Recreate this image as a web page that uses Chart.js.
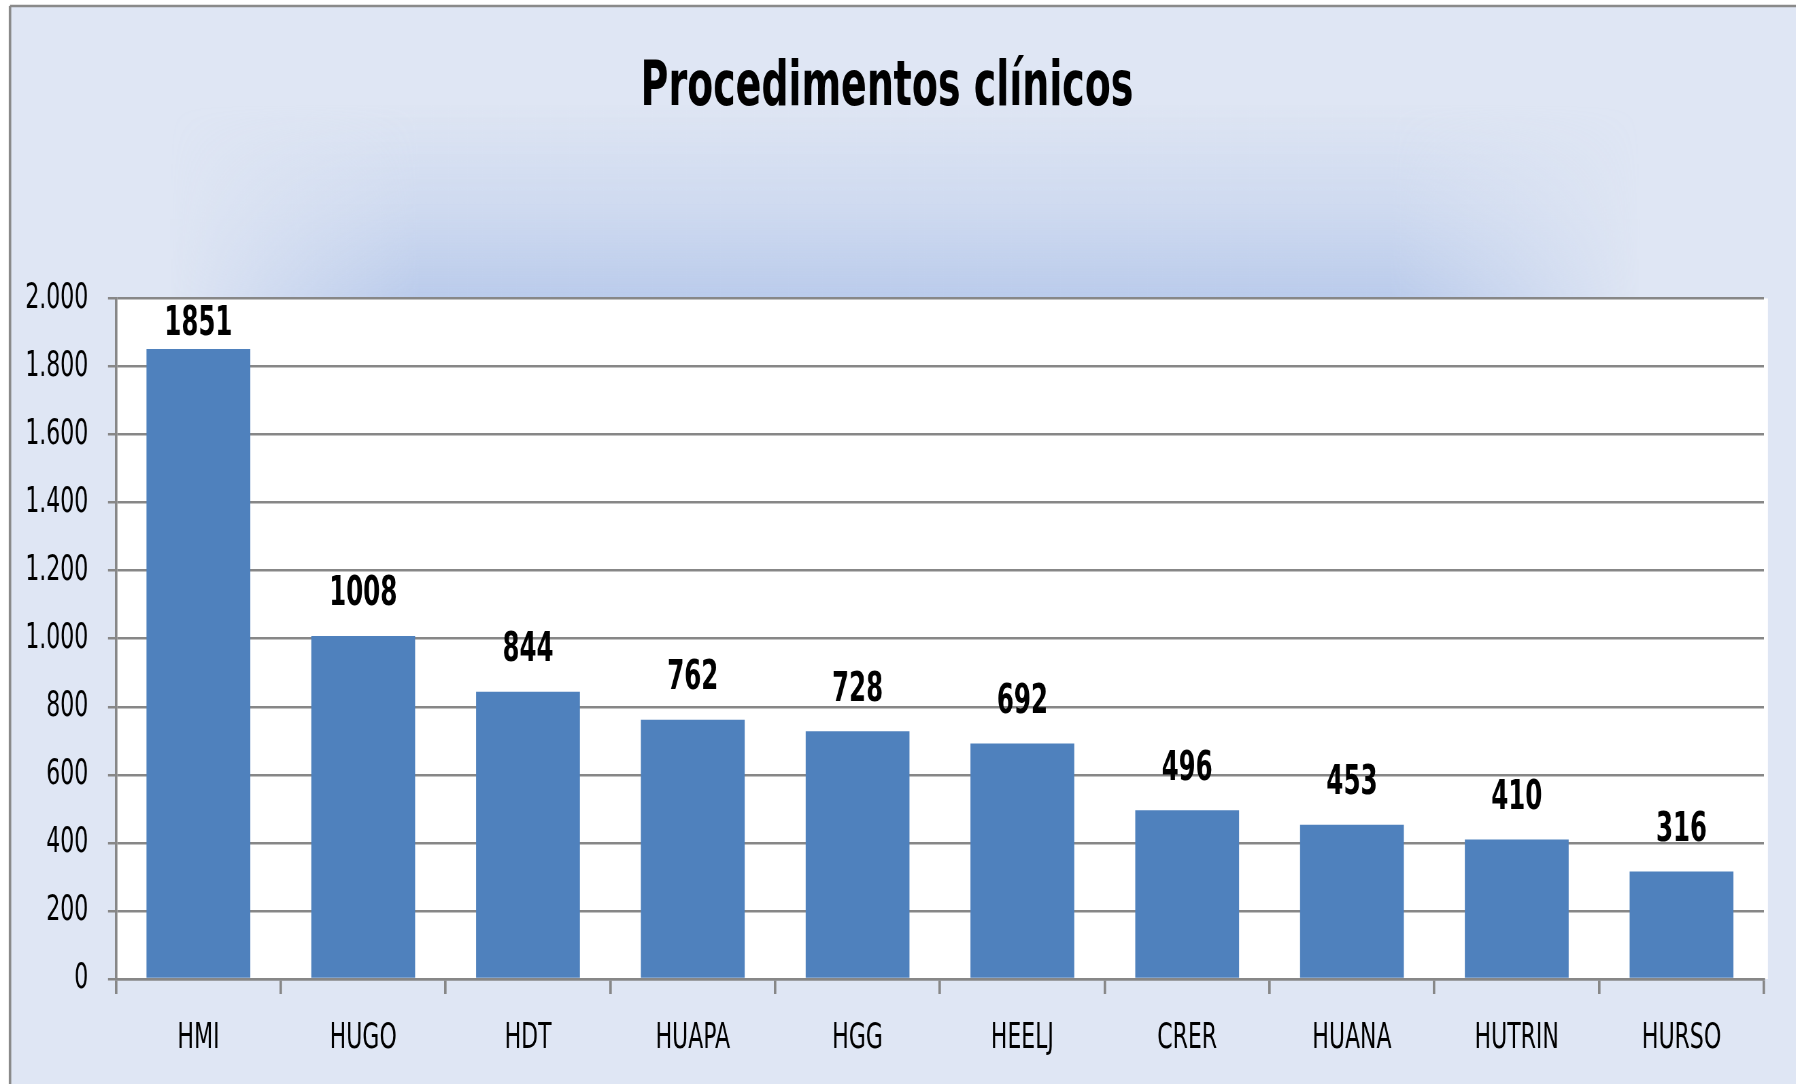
<!DOCTYPE html>
<html>
<head>
<meta charset="utf-8">
<title>Procedimentos clínicos</title>
<script src="https://cdn.jsdelivr.net/npm/chart.js@4.4.1/dist/chart.umd.min.js"></script>
<style>
  html, body { margin: 0; padding: 0; background: #fff; overflow: hidden; }
  /* drawn wide, then squeezed horizontally so the text gets the tall, narrow look of the original */
  #wrap { position: relative; width: 2641px; height: 1084px; transform: scaleX(0.68); transform-origin: 0 0; }
</style>
</head>
<body>
<div id="wrap"><canvas id="procChart"></canvas></div>
<script>
const title = 'Procedimentos clínicos';
const hospitals = ['HMI', 'HUGO', 'HDT', 'HUAPA', 'HGG', 'HEELJ', 'CRER', 'HUANA', 'HUTRIN', 'HURSO'];
const procedures = [1851, 1008, 844, 762, 728, 692, 496, 453, 410, 316];
const yTicks = [0, 200, 400, 600, 800, 1000, 1200, 1400, 1600, 1800, 2000];

const SQ = 0.68; // horizontal squeeze applied by the css above
const font = "'DejaVu Sans Condensed', 'DejaVu Sans', sans-serif";
const gridGrey = '#878787';

// dotted thousands, like 1.800
const fmt = v => String(v).replace(/\B(?=(\d{3})+(?!\d))/g, '.');

// panel background, outer frame and white plot area
const backdrop = {
  id: 'backdrop',
  beforeDraw(chart) {
    const { ctx, width, height, chartArea } = chart;
    const fx = 10 / SQ;
    ctx.save();
    ctx.fillStyle = '#ffffff';
    ctx.fillRect(0, 0, width, height);
    ctx.fillStyle = '#DFE6F4';
    ctx.fillRect(fx, 6, width - fx, height - 6);

    // blue glow above the plot: vertical fade masked by a horizontal fade
    const off = document.createElement('canvas');
    off.width = width;
    off.height = height;
    const o = off.getContext('2d');
    const vg = o.createLinearGradient(0, 105, 0, chartArea.top);
    vg.addColorStop(0, 'rgba(186,203,235,0)');
    vg.addColorStop(0.55, 'rgba(186,203,235,0.45)');
    vg.addColorStop(1, 'rgba(186,203,235,1)');
    o.fillStyle = vg;
    o.fillRect(0, 105, width, chartArea.top - 105);
    o.globalCompositeOperation = 'destination-in';
    const hg = o.createLinearGradient(170 / SQ, 0, 1640 / SQ, 0);
    hg.addColorStop(0, 'rgba(0,0,0,0)');
    hg.addColorStop(0.17, 'rgba(0,0,0,1)');
    hg.addColorStop(0.83, 'rgba(0,0,0,1)');
    hg.addColorStop(1, 'rgba(0,0,0,0)');
    o.fillStyle = hg;
    o.fillRect(0, 0, width, height);
    ctx.drawImage(off, 0, 0);

    ctx.strokeStyle = '#8A8A8A';
    ctx.lineWidth = 2.5 / SQ;
    ctx.beginPath();
    ctx.moveTo(fx, height);
    ctx.lineTo(fx, 6);
    ctx.stroke();
    ctx.lineWidth = 2.5;
    ctx.beginPath();
    ctx.moveTo(fx, 6);
    ctx.lineTo(width, 6);
    ctx.stroke();

    ctx.fillStyle = '#ffffff';
    ctx.fillRect(chartArea.left, chartArea.top, chartArea.right - chartArea.left + 4 / SQ, chartArea.bottom - chartArea.top);
    ctx.restore();
  }
};

// value labels above the bars
const barValues = {
  id: 'barValues',
  afterDatasetsDraw(chart) {
    const { ctx, chartArea } = chart;
    const meta = chart.getDatasetMeta(0);
    ctx.save();
    ctx.font = 'bold 40px ' + font;
    ctx.fillStyle = '#000';
    ctx.textAlign = 'center';
    ctx.textBaseline = 'middle';
    meta.data.forEach((bar, i) => {
      const y = Math.max(bar.y - 41, chartArea.top + 26);
      ctx.fillText(String(procedures[i]), bar.x, y);
    });
    ctx.restore();
  }
};

const ctx = document.getElementById('procChart').getContext('2d');
new Chart(ctx, {
  type: 'bar',
  data: {
    labels: hospitals,
    datasets: [{
      data: procedures,
      backgroundColor: '#4F81BD',
      borderWidth: 0,
      barPercentage: 0.63,
      categoryPercentage: 1
    }]
  },
  options: {
    responsive: true,
    maintainAspectRatio: false,
    animation: false,
    layout: { padding: { left: 10 / SQ, right: 47, top: 8, bottom: 0 } },
    plugins: {
      legend: { display: false },
      tooltip: { enabled: false },
      title: {
        display: true,
        text: title,
        color: '#000',
        font: { family: font, size: 62, weight: 'bold' },
        padding: { top: 44, bottom: 172 }
      }
    },
    scales: {
      x: {
        offset: true,
        grid: {
          display: true,
          drawOnChartArea: false,
          offset: true,
          color: gridGrey,
          lineWidth: 2.5 / SQ,
          tickLength: 15
        },
        border: { display: true, color: gridGrey, width: 2.5 },
        ticks: { color: '#000', padding: 23, font: { family: font, size: 36 } },
        afterFit: (scale) => { scale.height = 105; }
      },
      y: {
        min: 0,
        max: 2000,
        afterBuildTicks: (scale) => { scale.ticks = yTicks.map(v => ({ value: v })); },
        grid: { color: gridGrey, lineWidth: 2.5, tickLength: 8 / SQ },
        border: { display: true, color: gridGrey, width: 2.5 / SQ },
        ticks: {
          color: '#000',
          padding: 29,
          font: { family: font, size: 36 },
          callback: (v) => fmt(v)
        },
        afterFit: (scale) => { scale.width = 106 / SQ; }
      }
    }
  },
  plugins: [backdrop, barValues]
});
</script>
</body>
</html>
